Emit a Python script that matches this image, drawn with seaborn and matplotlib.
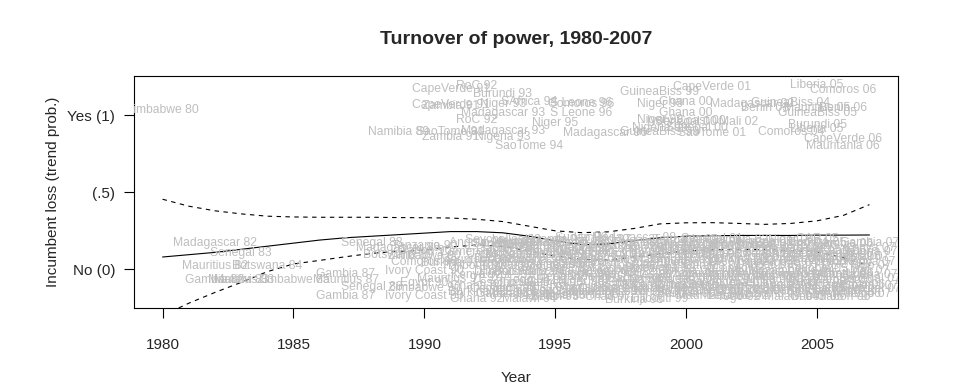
import numpy as np
import pandas as pd
import matplotlib
matplotlib.use("Agg")
import matplotlib.pyplot as plt
import seaborn as sns

sns.set_style("ticks")
plt.rcParams['font.family'] = ['Liberation Sans', 'DejaVu Sans']

# smoothed trend and confidence band, one value per year
years = list(range(1980, 2008))
trend = [0.080, 0.095, 0.110, 0.130, 0.150, 0.170, 0.190, 0.205, 0.215, 0.225,
         0.235, 0.245, 0.245, 0.237, 0.215, 0.185, 0.160, 0.165, 0.185, 0.205,
         0.215, 0.218, 0.220, 0.220, 0.220, 0.222, 0.222, 0.223]
upper = [0.455, 0.410, 0.380, 0.360, 0.345, 0.340, 0.338, 0.338, 0.338, 0.336,
         0.335, 0.333, 0.325, 0.310, 0.280, 0.250, 0.238, 0.243, 0.265, 0.295,
         0.302, 0.303, 0.298, 0.292, 0.298, 0.315, 0.350, 0.420]
lower = [-0.300, -0.220, -0.150, -0.085, -0.015, 0.035, 0.058, 0.082, 0.104, 0.117,
         0.125, 0.145, 0.158, 0.150, 0.120, 0.085, 0.065, 0.060, 0.080, 0.100,
         0.120, 0.125, 0.130, 0.128, 0.122, 0.114, 0.075, 0.025]

# elections where the incumbent lost (plotted around 1, jittered)
loss_labels = [
    "Zimbabwe 80", "Namibia 89", "CapeVerde 91", "RoC 92", "Burundi 93",
    "CapeVerde 91", "Zambia 91", "Niger 93", "SAfrica 94", "S Leone 96",
    "Comoros 96", "Madagascar 93", "S Leone 96", "RoC 92", "Niger 95",
    "SaoTome 91", "Madagascar 93", "Zambia 91", "Nigeria 93", "SaoTome 94",
    "Madagascar 96", "GuineaBiss 99", "CapeVerde 01", "Liberia 05", "Comoros 06",
    "Niger 99", "Ghana 00", "Madagascar 02", "GuineaBiss 04", "Benin 03",
    "Mauritius 05", "Benin 06", "GuineaBiss 05", "Ghana 00", "Niger 99",
    "Ivory Coast 00", "Senegal 00", "Mali 02", "Nigeria 99", "Senegal 00",
    "GuineaBiss 99", "SaoTome 01", "Comoros 04", "Burundi 05", "Liberia 05",
    "CapeVerde 06", "Mauritania 06",
]
loss_years = [
    1980, 1989, 1991, 1992, 1993,
    1991, 1991, 1993, 1994, 1996,
    1996, 1993, 1996, 1992, 1995,
    1991, 1993, 1991, 1993, 1994,
    1996.9, 1999, 2001, 2005, 2006,
    1999, 2000, 2002.5, 2004, 2003,
    2005, 2006, 2005, 2000, 1999,
    2000, 2000, 2002, 1999, 2000.4,
    1999, 2001, 2004, 2005, 2005,
    2006, 2006,
]
loss_y = [
    1.034, 0.894, 1.169, 1.190, 1.138,
    1.067, 1.062, 1.072, 1.085, 1.078,
    1.072, 1.017, 1.017, 0.970, 0.952,
    0.894, 0.900, 0.858, 0.860, 0.800,
    0.883, 1.153, 1.186, 1.197, 1.164,
    1.071, 1.088, 1.075, 1.078, 1.050,
    1.050, 1.050, 1.013, 1.013, 0.970,
    0.960, 0.955, 0.955, 0.920, 0.920,
    0.894, 0.883, 0.894, 0.937, 0.910,
    0.845, 0.800,
]

# elections where the incumbent held on (plotted around 0, jittered)
keep_labels = [
    "Madagascar 82", "Senegal 83", "Mauritius 82", "Botswana 84", "Gambia 82",
    "Malawi 83", "Mauritius 83", "Zimbabwe 85", "Gambia 87", "Mauritius 87",
    "Senegal 88", "Gambia 87", "Senegal 88", "Madagascar 89", "Botswana 89",
    "Zimbabwe 90", "Burkina 91", "Ivory Coast 90", "Mauritius 91", "Zimbabwe 90",
    "Ivory Coast 90", "Ghana 92", "Gabon 90", "Tanzania 90", "Egypt 90",
    "Comoros 90", "Cameroon 92", "Kenya 92", "Angola 92", "Mauritania 92",
    "Ghana 92", "Burkina 92", "Djibouti 92", "Seychelles 93", "Malawi 94",
    "Gabon 93", "Djibouti 93", "Togo 93", "Egypt 93", "Lesotho 93",
    "Comoros 93", "Senegal 93", "Tunisia 94", "Mozambique 94", "Namibia 94",
    "Botswana 94", "Togo 94", "GuineaBiss 94", "Mauritania 94", "Egypt 94",
    "Tanzania 95", "Ethiopia 95", "Ivory Coast 95", "Zimbabwe 95", "Algeria 95",
    "Guinea 95", "Egypt 95", "Uganda 95", "Benin 95", "Uganda 96",
    "Sudan 96", "Chad 96", "Gambia 96", "Zambia 96", "Niger 96",
    "Ghana 96", "Mauritania 96", "Gabon 96", "Kenya 97", "Liberia 97",
    "Djibouti 97", "Cameroon 97", "Mali 97", "Algeria 97", "Mauritania 97",
    "Chad 97", "Madagascar 98", "Burkina 98", "Lesotho 98", "Gabon 98",
    "Togo 98", "Seychelles 98", "Guinea 98", "Senegal 98", "Algeria 99",
    "Namibia 99", "Malawi 99", "Botswana 99", "SAfrica 99", "Mozambique 99",
    "Tunisia 99", "Djibouti 99", "Tanzania 00", "Zimbabwe 00", "Egypt 00",
    "Ethiopia 00", "Guinea 00", "Sudan 00", "Djibouti 00", "Burkina 00",
    "Uganda 01", "Benin 01", "Chad 01", "Gambia 01", "Zambia 01",
    "Gabon 01", "Seychelles 01", "Mauritania 01", "Senegal 01", "Cameroon 02",
    "Zimbabwe 02", "Lesotho 02", "Congo 02", "Burkina 02", "Algeria 02",
    "Chad 02", "Togo 02", "Gambia 02", "Nigeria 03", "Rwanda 03",
    "Togo 03", "Djibouti 03", "Mauritania 03", "Guinea 03", "EqGuinea 03",
    "Swaziland 03", "Niger 04", "Botswana 04", "SAfrica 04", "Algeria 04",
    "Mozambique 04", "Namibia 04", "Tunisia 04", "Cameroon 04", "Malawi 04",
    "CAR 05", "Zimbabwe 05", "Togo 05", "Egypt 05", "Ethiopia 05",
    "Tanzania 05", "Burkina 05", "Guinea 05", "Gabon 05", "Gambia 06",
    "Seychelles 06", "Uganda 06", "Zambia 06", "Madagascar 06", "Gabon 06",
    "Chad 06", "DRC 06", "SaoTome 06", "Gambia 07", "Nigeria 07",
    "Kenya 07", "Mali 07", "Senegal 07", "Burkina 07", "Togo 07",
    # legislative rounds of the same years
    "Cameroon 93", "Gabon 93", "Togo 93", "Djibouti 93", "Egypt 93",
    "Malawi 94", "Tunisia 94", "Namibia 94", "Mozambique 94", "Botswana 94",
    "Tanzania 95", "Zimbabwe 95", "Ethiopia 95", "Algeria 95", "Guinea 95",
    "Uganda 96", "Chad 96", "Gambia 96", "Niger 96", "Ghana 96",
    "Kenya 97", "Mali 97", "Cameroon 97", "Djibouti 97", "Chad 97",
    "Togo 98", "Gabon 98", "Lesotho 98", "Guinea 98", "Madagascar 98",
    "Malawi 99", "Algeria 99", "Namibia 99", "Botswana 99", "Tunisia 99",
    "Tanzania 00", "Zimbabwe 00", "Egypt 00", "Ethiopia 00", "Burkina 00",
    "Uganda 01", "Chad 01", "Gambia 01", "Benin 01", "Zambia 01",
    "Cameroon 02", "Congo 02", "Lesotho 02", "Zimbabwe 02", "Burkina 02",
    "Nigeria 03", "Rwanda 03", "Togo 03", "Djibouti 03", "Guinea 03",
    "Botswana 04", "SAfrica 04", "Algeria 04", "Namibia 04", "Cameroon 04",
    "Togo 05", "Egypt 05", "Ethiopia 05", "Tanzania 05", "Burkina 05",
    "Chad 06", "Uganda 06", "DRC 06", "Zambia 06", "Seychelles 06",
    "Nigeria 07", "Kenya 07", "Mali 07", "Senegal 07", "Togo 07",
]
keep_y = [
    0.173, 0.104, 0.023, 0.023, -0.070,
    -0.068, -0.072, -0.070, -0.030, -0.066,
    -0.113, -0.175, 0.173, 0.136, 0.095,
    0.087, 0.040, -0.010, -0.060, -0.123,
    -0.173, -0.193, 0.120, 0.150, -0.090,
    0.050, 0.110, -0.040, 0.170, 0.060,
    -0.110, -0.150, 0.020, 0.190, -0.193,
    0.130, 0.070, 0.020, -0.040, -0.090,
    -0.130, 0.165, 0.150, 0.090, 0.030,
    -0.020, -0.070, -0.120, 0.180, -0.150,
    0.170, 0.110, 0.060, 0.010, -0.050,
    -0.090, -0.140, 0.190, -0.180, 0.140,
    0.205, 0.080, 0.030, -0.030, -0.080,
    -0.120, -0.165, 0.110, 0.160, 0.100,
    0.040, -0.010, -0.060, -0.100, -0.150,
    0.190, 0.205, -0.200, 0.130, 0.070,
    0.020, -0.040, -0.090, -0.130, 0.170,
    0.120, 0.060, 0.010, -0.050, -0.100,
    -0.150, -0.190, 0.190, 0.140, 0.090,
    0.040, -0.010, -0.060, -0.110, -0.160,
    0.170, 0.120, 0.070, 0.020, -0.030,
    -0.080, -0.120, -0.170, 0.200, 0.150,
    0.100, 0.050, 0.000, -0.050, -0.090,
    -0.140, -0.180, 0.190, 0.180, 0.130,
    0.080, 0.030, -0.020, -0.070, -0.110,
    -0.160, 0.190, 0.140, 0.090, 0.040,
    -0.010, -0.060, -0.100, -0.140, -0.180,
    0.195, 0.100, 0.150, 0.050, 0.000,
    -0.050, -0.090, -0.130, -0.180, 0.165,
    0.078, -0.037, -0.070, -0.102, -0.180,
    0.120, 0.030, -0.140, 0.169, 0.110,
    0.050, -0.010, -0.060, -0.110, -0.160,
    0.100, -0.160, 0.160, -0.020, 0.040,
    0.120, -0.090, 0.170, -0.160, 0.060,
    -0.020, 0.140, -0.170, 0.090, 0.030,
    -0.050, 0.170, -0.150, 0.050, 0.120,
    -0.030, 0.130, 0.070, -0.130, -0.180,
    0.170, -0.060, -0.150, 0.100, 0.000,
    -0.130, 0.030, -0.070, 0.150, 0.090,
    -0.030, 0.060, -0.140, 0.160, 0.110,
    -0.100, 0.150, -0.150, -0.050, 0.090,
    -0.120, 0.160, -0.170, -0.030, 0.070,
    -0.050, 0.100, -0.140, 0.160, 0.050,
    -0.040, 0.120, -0.120, 0.070, 0.170,
    -0.030, 0.120, -0.150, 0.070, 0.170,
    -0.030, 0.100, -0.120, 0.050, -0.160,
    -0.040, 0.140, 0.080, -0.130, 0.020,
]


def label_year(s):
    yy = int(s[-2:])
    return 1900 + yy if yy >= 80 else 2000 + yy


keep_years = [label_year(s) for s in keep_labels]

fig = plt.figure(figsize=(9.76, 3.85), dpi=100)
ax = fig.add_axes([0.1376, 0.1992, 0.7822, 0.6034])

grey = '#bebebe'
for lab, x, y in zip(loss_labels, loss_years, loss_y):
    ax.text(x, y, lab, color=grey, fontsize=8.7, ha='center', va='center', clip_on=True)
for lab, x, y in zip(keep_labels, keep_years, keep_y):
    ax.text(x, y, lab, color=grey, fontsize=8.7, ha='center', va='center', clip_on=True)

curves = pd.DataFrame({'year': years, 'trend': trend, 'upper': upper, 'lower': lower})
sns.lineplot(data=curves, x='year', y='trend', color='black', lw=0.8, errorbar=None, ax=ax)
for col in ['upper', 'lower']:
    sns.lineplot(data=curves, x='year', y=col, color='black', lw=0.8, errorbar=None, ax=ax)
    ax.lines[-1].set_dashes([4, 4])

ax.set_xlim(1978.92, 2008.08)
ax.set_ylim(-0.253, 1.255)
ax.set_xticks([1980, 1985, 1990, 1995, 2000, 2005])
ax.set_yticks([0, 0.5, 1])
ax.set_yticklabels(['No (0)', '(.5)', 'Yes (1)'])
ax.tick_params(axis='both', direction='out', length=7.2, width=0.8, labelsize=11, color='black')
ax.tick_params(axis='x', pad=14)
ax.tick_params(axis='y', pad=6.5)
for sp in ax.spines.values():
    sp.set_visible(True)
    sp.set_color('black')
    sp.set_linewidth(0.8)

ax.set_xlabel('Year', fontsize=11)
ax.set_ylabel('Incumbent loss (trend prob.)', fontsize=11)
ax.xaxis.set_label_coords(0.5, -0.27)
ax.yaxis.set_label_coords(-0.097, 0.5)
fig.text(516 / 976, 1 - 40 / 385, 'Turnover of power, 1980-2007', fontsize=14,
         fontweight='bold', ha='center', va='center')

fig.savefig('out.png', dpi=100)
